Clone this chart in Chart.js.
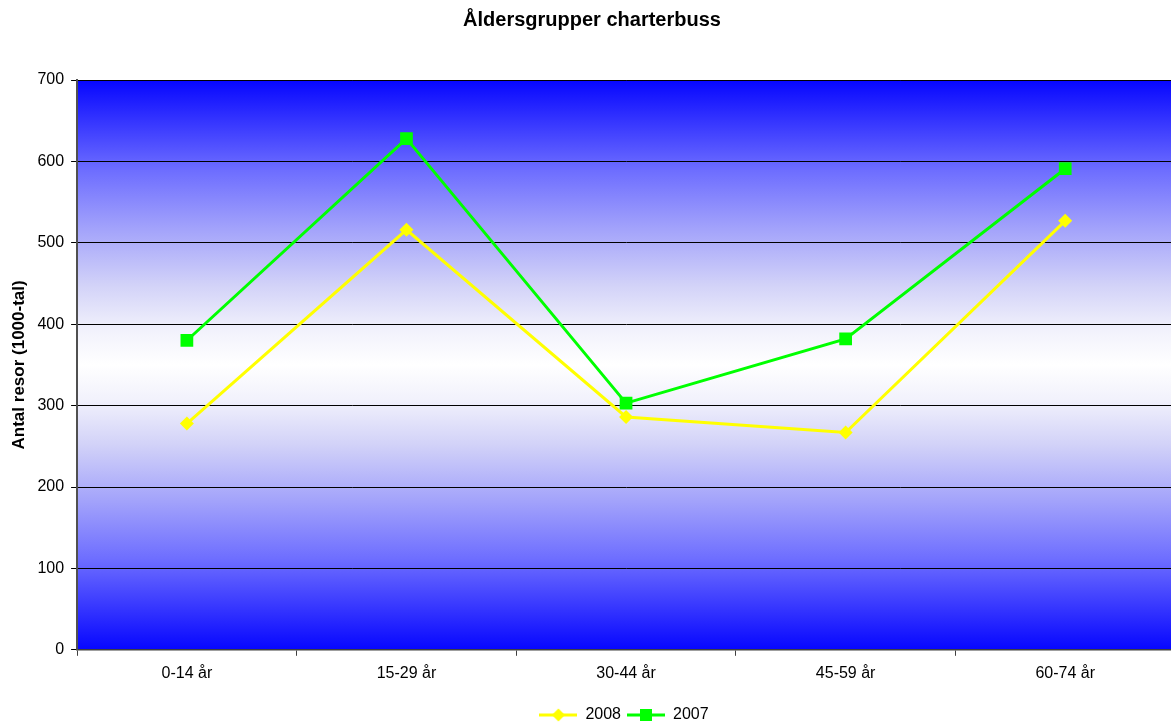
<!DOCTYPE html>
<html>
<head>
<meta charset="utf-8">
<title>Åldersgrupper charterbuss</title>
<script src="https://cdn.jsdelivr.net/npm/chart.js@4/dist/chart.umd.min.js"></script>
<style>
    html, body { margin: 0; padding: 0; background: #fff; overflow: hidden; }
    #wrap { width: 1184px; height: 723px; }
</style>
</head>
<body>
<div id="wrap"><canvas id="chart"></canvas></div>
<script>
// Data
const categories = ['0-14 år', '15-29 år', '30-44 år', '45-59 år', '60-74 år'];
const values2008 = [278, 516, 286, 267, 527];
const values2007 = [380, 628, 303, 382, 591];
const yTicks = [0, 100, 200, 300, 400, 500, 600, 700];

const FONT = 'Arial, "Liberation Sans", sans-serif';

// Legend sample: short line with the marker in the middle
function legendSample(color, shape) {
    const c = document.createElement('canvas');
    c.width = 38;
    c.height = 14;
    const ctx = c.getContext('2d');
    ctx.strokeStyle = color;
    ctx.lineWidth = 3;
    ctx.beginPath();
    ctx.moveTo(0, 7);
    ctx.lineTo(38, 7);
    ctx.stroke();
    ctx.fillStyle = color;
    if (shape === 'diamond') {
        ctx.beginPath();
        ctx.moveTo(19, 0.5);
        ctx.lineTo(25.5, 7);
        ctx.lineTo(19, 13.5);
        ctx.lineTo(12.5, 7);
        ctx.closePath();
        ctx.fill();
    } else {
        ctx.fillRect(13, 1, 12, 12);
    }
    return c;
}

// Plot area background: blue at the edges, white in the middle
const plotBackground = {
    id: 'plotBackground',
    beforeDraw(chart) {
        const { ctx, chartArea: a } = chart;
        if (!a) return;
        const g = ctx.createLinearGradient(0, a.top, 0, a.bottom);
        g.addColorStop(0, '#0606ff');
        g.addColorStop(0.08, '#3a3aff');
        g.addColorStop(0.16, '#6e6eff');
        g.addColorStop(0.26, '#a2a2fb');
        g.addColorStop(0.36, '#d2d2f8');
        g.addColorStop(0.44, '#f2f2fc');
        g.addColorStop(0.5, '#ffffff');
        g.addColorStop(0.56, '#f2f2fc');
        g.addColorStop(0.64, '#d2d2f8');
        g.addColorStop(0.74, '#a2a2fb');
        g.addColorStop(0.84, '#6e6eff');
        g.addColorStop(0.92, '#3a3aff');
        g.addColorStop(1, '#0606ff');
        ctx.save();
        ctx.fillStyle = g;
        ctx.fillRect(a.left, a.top, a.right - a.left, a.bottom - a.top);
        ctx.restore();
    }
};

// The legend sits a bit right of centre and lower, like in the original
const legendNudge = {
    id: 'legendNudge',
    afterLayout(chart) {
        const lg = chart.legend;
        if (!lg) return;
        lg.left += 32;
        lg.right += 32;
        lg.top += 10;
        lg.bottom += 10;
    }
};

const ctx = document.getElementById('chart');

new Chart(ctx, {
    type: 'line',
    data: {
        labels: categories,
        datasets: [
            {
                label: '2008',
                data: values2008,
                borderColor: '#ffff00',
                backgroundColor: '#ffff00',
                borderWidth: 3,
                pointStyle: 'rectRot',
                pointRadius: 7,
                pointHoverRadius: 7,
                pointBorderWidth: 0,
                tension: 0
            },
            {
                label: '2007',
                data: values2007,
                borderColor: '#00ff00',
                backgroundColor: '#00ff00',
                borderWidth: 3,
                pointStyle: 'rect',
                pointRadius: 9,
                pointHoverRadius: 9,
                pointBorderWidth: 0,
                tension: 0
            }
        ]
    },
    options: {
        responsive: true,
        maintainAspectRatio: false,
        animation: false,
        layout: { padding: { top: 8, right: 0, bottom: 0, left: 0 } },
        plugins: {
            title: {
                display: true,
                text: 'Åldersgrupper charterbuss',
                color: '#000',
                font: { family: FONT, size: 20, weight: 'bold' },
                padding: { top: 0, bottom: 48 }
            },
            legend: {
                position: 'bottom',
                labels: {
                    color: '#000',
                    font: { family: FONT, size: 16 },
                    usePointStyle: true,
                    pointStyleWidth: 38,
                    boxHeight: 14,
                    padding: 6,
                    generateLabels(chart) {
                        return [
                            { text: '2008', pointStyle: legendSample('#ffff00', 'diamond'), datasetIndex: 0, fontColor: '#000', lineWidth: 0, strokeStyle: 'transparent', fillStyle: 'transparent' },
                            { text: '2007', pointStyle: legendSample('#00ff00', 'square'), datasetIndex: 1, fontColor: '#000', lineWidth: 0, strokeStyle: 'transparent', fillStyle: 'transparent' }
                        ];
                    }
                }
            },
            tooltip: { enabled: false }
        },
        scales: {
            x: {
                offset: true,
                grid: {
                    offset: true,
                    drawOnChartArea: false,
                    drawTicks: true,
                    tickLength: 6,
                    color: '#404040'
                },
                border: { color: '#404040', width: 1.5 },
                ticks: {
                    color: '#000',
                    font: { family: FONT, size: 16 },
                    padding: 8,
                    maxRotation: 0
                }
            },
            y: {
                min: 0,
                max: 700,
                afterBuildTicks(scale) {
                    scale.ticks = yTicks.map(v => ({ value: v }));
                },
                grid: {
                    color: '#000',
                    lineWidth: 1,
                    tickLength: 6,
                    drawTicks: true
                },
                border: { color: '#505050', width: 2 },
                ticks: {
                    color: '#000',
                    font: { family: FONT, size: 16 },
                    padding: 7
                },
                title: {
                    display: true,
                    text: 'Antal resor (1000-tal)',
                    color: '#000',
                    font: { family: FONT, size: 17, weight: 'bold' },
                    padding: { top: 9, bottom: 1 }
                }
            }
        }
    },
    plugins: [plotBackground, legendNudge]
});
</script>
</body>
</html>
